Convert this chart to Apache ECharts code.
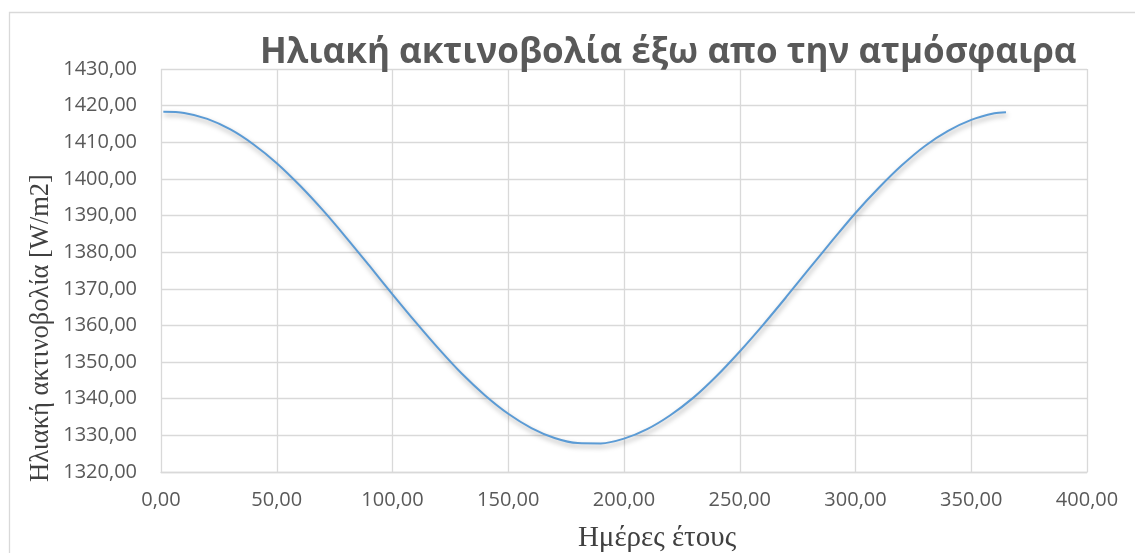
<!DOCTYPE html>
<html>
<head>
<meta charset="utf-8">
<script src="https://cdn.jsdelivr.net/npm/echarts@6/dist/echarts.min.js"></script>
<style>
html,body{margin:0;padding:0;background:#fff;}
#chart{width:1135px;height:553px;}
</style>
</head>
<body>
<div id="chart"></div>
<script>
var titleText = 'Ηλιακή ακτινοβολία έξω απο την ατμόσφαιρα';
var xTitle = 'Ημέρες έτους';
var yTitle = 'Ηλιακή ακτινοβολία [W/m2]';

var days = [1, 10, 20, 30, 40, 50, 60, 70, 80, 90, 100, 110, 120, 130, 140, 150, 160, 170, 180, 190,
            200, 210, 220, 230, 240, 250, 260, 270, 280, 290, 300, 310, 320, 330, 340, 350, 360, 365];
var irradiance = [1418.3, 1418.0, 1416.4, 1413.5, 1409.4, 1404.3, 1398.2, 1391.4, 1384.0, 1376.3,
                  1368.5, 1360.9, 1353.6, 1346.8, 1340.9, 1335.9, 1332.0, 1329.3, 1327.9, 1327.8,
                  1329.1, 1331.7, 1335.5, 1340.3, 1346.2, 1352.9, 1360.1, 1367.7, 1375.5, 1383.2,
                  1390.7, 1397.5, 1403.7, 1409.0, 1413.1, 1416.1, 1417.9, 1418.2];

var xMin = 0, xMax = 400, xStep = 50;
var yMin = 1320, yMax = 1430, yStep = 10;

var pts = days.map(function (d, i) { return [d, irradiance[i]]; });
function fmt(v) { return Number(v).toFixed(2).replace('.', ','); }

var chart = echarts.init(document.getElementById('chart'));
chart.setOption({
  animation: false,
  backgroundColor: '#ffffff',
  grid: { left: 161, right: 48, top: 69, bottom: 81, containLabel: false },
  graphic: [
    { type: 'rect', left: 7, top: 10, shape: { width: 1300, height: 700 },
      style: { fill: 'none', stroke: '#d9d9d9', lineWidth: 1.3 }, z: -1 },
    { type: 'text', left: 260, top: 36, z: 100,
      style: { text: titleText, font: 'bold 35px "Open Sans"', fill: '#595959' } },
    { type: 'text', x: 657, y: 538, z: 100,
      style: { text: xTitle, font: '29px "Liberation Serif"', fill: '#404040', align: 'center', verticalAlign: 'middle' } },
    { type: 'text', x: 41, y: 328, rotation: Math.PI / 2, z: 100,
      style: { text: yTitle, font: '26.5px "Liberation Serif"', fill: '#404040', align: 'center', verticalAlign: 'middle' } }
  ],
  xAxis: {
    type: 'value', min: xMin, max: xMax, interval: xStep,
    axisLine: { show: true, lineStyle: { color: '#d9d9d9', width: 1.3 } },
    axisTick: { show: false },
    splitLine: { show: true, lineStyle: { color: '#d9d9d9', width: 1.3 } },
    axisLabel: { formatter: fmt, color: '#595959', fontFamily: 'Open Sans', fontSize: 20, margin: 18 }
  },
  yAxis: {
    type: 'value', min: yMin, max: yMax, interval: yStep,
    axisLine: { show: false },
    axisTick: { show: false },
    splitLine: { show: true, lineStyle: { color: '#d9d9d9', width: 1.3 } },
    axisLabel: { formatter: fmt, color: '#595959', fontFamily: 'Open Sans', fontSize: 20, margin: 24 }
  },
  series: [{
    type: 'line', data: pts, smooth: 0.3, showSymbol: false,
    lineStyle: { color: '#5b9bd5', width: 2,
      shadowColor: 'rgba(0,0,0,0.35)', shadowBlur: 5, shadowOffsetX: 1, shadowOffsetY: 3 }
  }]
});
</script>
</body>
</html>
